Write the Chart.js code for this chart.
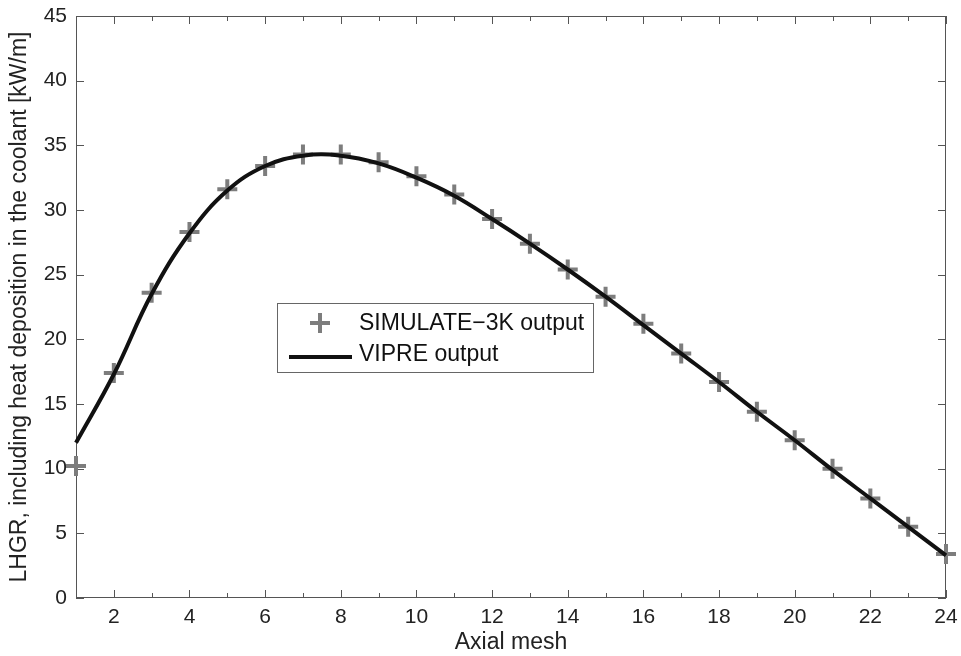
<!DOCTYPE html>
<html><head><meta charset="utf-8">
<script src="https://cdn.jsdelivr.net/npm/chart.js@4/dist/chart.umd.min.js"></script>
<style>html,body{margin:0;padding:0;background:#fff}#wrap{width:961px;height:656px}</style>
</head><body><div id="wrap"><canvas id="c" width="961" height="656"></canvas></div>
<script>
const axialMesh = [1,2,3,4,5,6,7,8,9,10,11,12,13,14,15,16,17,18,19,20,21,22,23,24];
const simulate3k = [10.2,17.4,23.6,28.3,31.6,33.4,34.3,34.3,33.7,32.6,31.2,29.3,27.4,25.4,23.3,21.2,18.9,16.7,14.4,12.2,10.0,7.7,5.5,3.4];
const vipre = [12.0,17.3,23.5,28.2,31.5,33.4,34.2,34.2,33.6,32.5,31.1,29.3,27.4,25.4,23.3,21.1,18.9,16.7,14.4,12.2,9.9,7.7,5.5,3.3];
const xTickLabels = [2,4,6,8,10,12,14,16,18,20,22,24];
const yTickLabels = [0,5,10,15,20,25,30,35,40,45];
const seriesNames = ['SIMULATE\u22123K output','VIPRE output'];
const xTitle = 'Axial mesh';
const yTitle = 'LHGR, including heat deposition in the coolant [kW/m]';

const FONT = 'Liberation Sans, Arial, Helvetica, sans-serif';
const AXIS_COLOR = '#555';
const MARKER_COLOR = '#7d7d7d';

const framePlugin = {
  id: 'frame',
  beforeDatasetsDraw(chart) {
    const {ctx, chartArea: a, scales: {x, y}} = chart;
    ctx.save();
    ctx.strokeStyle = AXIS_COLOR;
    ctx.lineWidth = 1;
    ctx.strokeRect(a.left + 0.5, a.top + 0.5, a.right - a.left - 1, a.bottom - a.top - 1);
    ctx.beginPath();
    for (let v = x.min; v <= x.max; v++) {
      const px = Math.round(x.getPixelForValue(v)) + 0.5;
      const len = xTickLabels.includes(v) ? 8 : 5;
      ctx.moveTo(px, a.bottom); ctx.lineTo(px, a.bottom - len);
      ctx.moveTo(px, a.top); ctx.lineTo(px, a.top + len);
    }
    yTickLabels.forEach(v => {
      const py = Math.round(y.getPixelForValue(v)) + 0.5;
      ctx.moveTo(a.left, py); ctx.lineTo(a.left + 8, py);
      ctx.moveTo(a.right, py); ctx.lineTo(a.right - 8, py);
    });
    ctx.stroke();
    ctx.restore();
  },
  afterDraw(chart) {
    const {ctx} = chart;
    const bx = 277, by = 303, bw = 316, bh = 69;
    ctx.save();
    ctx.fillStyle = '#fff';
    ctx.fillRect(bx, by, bw, bh);
    ctx.strokeStyle = '#666';
    ctx.lineWidth = 1;
    ctx.strokeRect(bx + 0.5, by + 0.5, bw, bh);
    ctx.strokeStyle = MARKER_COLOR;
    ctx.lineWidth = 4;
    ctx.beginPath();
    ctx.moveTo(320 - 10, 323); ctx.lineTo(320 + 10, 323);
    ctx.moveTo(320, 323 - 10); ctx.lineTo(320, 323 + 10);
    ctx.stroke();
    ctx.strokeStyle = '#111';
    ctx.beginPath();
    ctx.moveTo(289, 357); ctx.lineTo(352, 357);
    ctx.stroke();
    ctx.fillStyle = '#111';
    ctx.font = '23px ' + FONT;
    ctx.textBaseline = 'middle';
    ctx.fillText(chart.data.datasets[0].label, 359, 324);
    ctx.fillText(chart.data.datasets[1].label, 359, 355);
    ctx.restore();
  }
};

new Chart(document.getElementById('c'), {
  type: 'line',
  data: {
    datasets: [
      {
        label: seriesNames[0],
        data: axialMesh.map((m, i) => ({x: m, y: simulate3k[i]})),
        showLine: false,
        pointStyle: 'cross',
        pointRadius: 10,
        pointBorderWidth: 4,
        pointBorderColor: MARKER_COLOR,
        pointBackgroundColor: MARKER_COLOR,
        clip: false,
        order: 2
      },
      {
        label: seriesNames[1],
        data: axialMesh.map((m, i) => ({x: m, y: vipre[i]})),
        borderColor: '#111',
        borderWidth: 4,
        pointRadius: 0,
        tension: 0.4,
        fill: false,
        clip: 3,
        order: 1
      }
    ]
  },
  options: {
    responsive: false,
    animation: false,
    devicePixelRatio: 1,
    layout: {padding: {top: 16, right: 15, left: 0, bottom: 0}},
    plugins: {legend: {display: false}, tooltip: {enabled: false}},
    scales: {
      x: {
        type: 'linear', min: 1, max: 24,
        grid: {display: false, drawTicks: false},
        border: {display: false},
        ticks: {
          stepSize: 1, autoSkip: false, maxRotation: 0, padding: 7,
          color: '#222', font: {family: FONT, size: 21},
          callback: v => xTickLabels.includes(v) ? String(v) : ''
        },
        title: {display: true, text: xTitle, color: '#222', font: {family: FONT, size: 23}, padding: {top: 0, bottom: 0}},
        afterFit: s => { s.height = 58; s.paddingLeft = 0; s.paddingRight = 0; }
      },
      y: {
        type: 'linear', min: 0, max: 45,
        grid: {display: false, drawTicks: false},
        border: {display: false},
        ticks: {
          stepSize: 5, padding: 9, color: '#222', font: {family: FONT, size: 21},
          callback: v => yTickLabels.includes(v) ? String(v) : ''
        },
        title: {display: true, text: yTitle, color: '#222', font: {family: FONT, size: 23}, padding: {top: 6, bottom: 0}},
        afterFit: s => { s.width = 76; s.paddingTop = 0; s.paddingBottom = 0; }
      }
    }
  },
  plugins: [framePlugin]
});
</script>
</body></html>
